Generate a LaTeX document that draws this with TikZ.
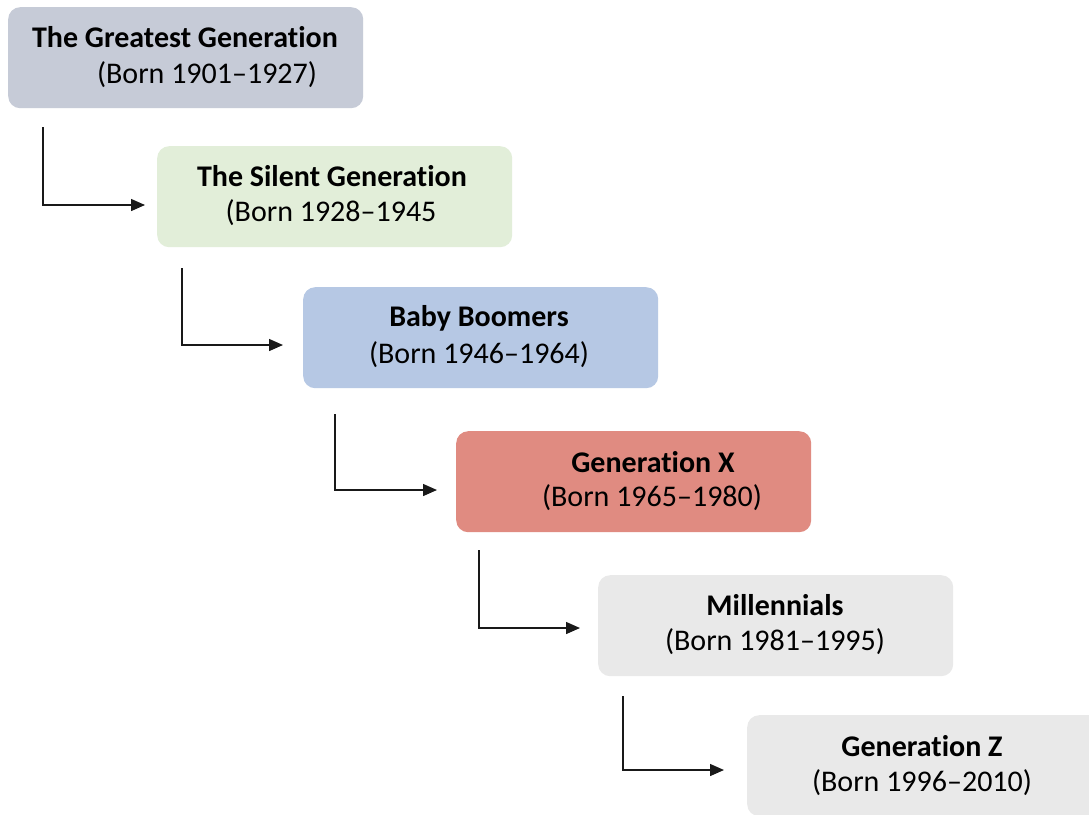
\documentclass[tikz,border=0pt]{standalone}
\usepackage{fontspec}
\setmainfont{Carlito}[Ligatures=CommonOff]
\usetikzlibrary{arrows.meta,calc}
\definecolor{greyblue}{HTML}{C6CBD7}
\definecolor{palegreen}{HTML}{E2EED9}
\definecolor{paleblue}{HTML}{B6C8E4}
\definecolor{salmon}{HTML}{E08B81}
\definecolor{palegrey}{HTML}{E9E9E9}
\tikzset{
  genbox/.style={rectangle, rounded corners=12pt, minimum width=355pt,
    minimum height=101pt, anchor=north west, inner sep=0pt, draw=none},
  title/.style={font=\fontsize{30}{34}\selectfont\bfseries, inner sep=0pt, anchor=center},
  years/.style={font=\fontsize{30}{34}\selectfont, inner sep=0pt, anchor=center},
  link/.style={line width=1.4pt, draw=black!90, -{Triangle[length=14pt,width=12pt]}}
}
\begin{document}
\begin{tikzpicture}[x=1pt,y=-1pt]
\clip (0,0) rectangle (1089,814);
\fill[white] (0,0) rectangle (1089,814);
% generation boxes
\node[genbox, fill=greyblue]  (g1) at (8,7) {};
\node[genbox, fill=palegreen] (g2) at (157,146) {};
\node[genbox, fill=paleblue]  (g3) at (303,287) {};
\node[genbox, fill=salmon]    (g4) at (456,431) {};
\node[genbox, fill=palegrey]  (g5) at (598,575) {};
\node[genbox, fill=palegrey]  (g6) at (747,715) {};
% labels
\node[title] (t1) at (185,37) {The Greatest Generation};
\node[years] (y1) at (207,75) {(Born 1901–1927)};
\node[title] (t2) at (332,176) {The Silent Generation};
\node[years] (y2) at (331,213) {(Born 1928–1945};
\node[title] (t3) at (479,318) {Baby Boomers};
\node[years] (y3) at (479,355) {(Born 1946–1964)};
\node[title] (t4) at (653,462) {Generation X};
\node[years] (y4) at (652,498) {(Born 1965–1980)};
\node[title] (t5) at (775,605) {Millennials};
\node[years] (y5) at (775,642) {(Born 1981–1995)};
\node[title] (t6) at (922,746) {Generation Z};
\node[years] (y6) at (922,783) {(Born 1996–2010)};
% elbow connectors
\coordinate (s1) at ($(g1.south west)+(35,19)$);
\coordinate (e1) at ($(g2.north west)+(-12,59)$);
\draw[link] (s1) |- (e1);
\coordinate (s2) at ($(g2.south west)+(25,21)$);
\coordinate (e2) at ($(g3.north west)+(-20,58)$);
\draw[link] (s2) |- (e2);
\coordinate (s3) at ($(g3.south west)+(32,26)$);
\coordinate (e3) at ($(g4.north west)+(-19,59)$);
\draw[link] (s3) |- (e3);
\coordinate (s4) at ($(g4.south west)+(23,18)$);
\coordinate (e4) at ($(g5.north west)+(-18,53)$);
\draw[link] (s4) |- (e4);
\coordinate (s5) at ($(g5.south west)+(25,20)$);
\coordinate (e5) at ($(g6.north west)+(-23,55)$);
\draw[link] (s5) |- (e5);
\end{tikzpicture}
\end{document}
